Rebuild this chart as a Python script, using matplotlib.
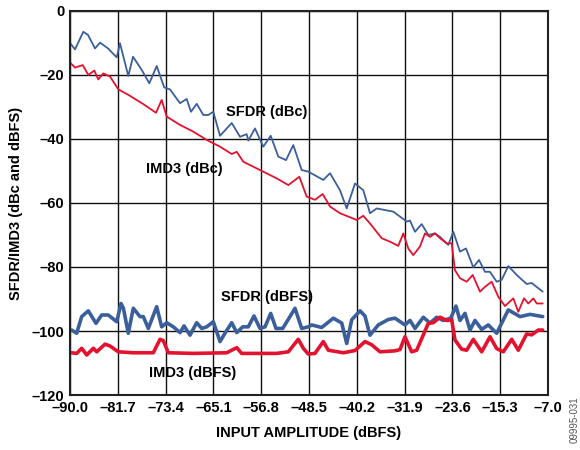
import numpy as np
import matplotlib.pyplot as plt

plt.rcParams['font.family'] = ['Liberation Sans', 'DejaVu Sans']

# values (x = input amplitude in dBFS, y in dB)
sfdr_dbc_x = [-90.17, -89.13, -87.69, -86.87, -85.66, -84.79, -83.40, -81.89, -81.32, -79.88,
              -79.06, -77.55, -76.23, -74.95, -73.63, -72.64, -70.90, -69.74, -68.99, -68.00,
              -66.85, -65.99, -65.12, -63.95, -61.92, -60.48, -59.32, -59.04, -57.88, -56.44,
              -55.15, -53.83, -52.49, -51.23, -49.77, -48.62, -46.02, -44.85, -43.12, -41.95,
              -40.51, -39.07, -37.91, -36.74, -33.86, -31.53, -30.96, -30.09, -28.93, -27.78,
              -26.62, -25.75, -24.31, -23.44, -22.28, -21.24, -19.97, -18.98, -17.94, -17.07,
              -15.91, -15.04, -13.89, -12.43, -10.70, -9.83, -7.92]
sfdr_dbc_y = [-9.6, -12.0, -6.5, -7.5, -11.7, -9.9, -11.7, -14.5, -10.1, -20.3,
              -14.3, -18.4, -22.6, -17.2, -23.9, -24.5, -28.8, -27.5, -31.5, -29.0,
              -32.5, -32.5, -31.5, -39.0, -35.0, -39.3, -38.5, -40.5, -36.7, -42.4,
              -39.0, -45.5, -46.6, -41.9, -49.7, -50.2, -52.8, -50.7, -56.0, -61.7,
              -53.9, -56.0, -63.2, -61.7, -62.7, -65.8, -65.5, -69.0, -66.6, -70.0,
              -69.5, -70.6, -73.1, -69.0, -75.2, -74.2, -80.1, -77.8, -81.5, -81.5,
              -84.6, -84.0, -79.7, -82.5, -85.3, -85.0, -87.7]

imd3_dbc_x = [-90.17, -89.13, -87.79, -86.82, -85.78, -85.09, -84.22, -83.05, -81.61, -79.88,
              -77.27, -75.07, -74.08, -73.21, -70.90, -68.59, -66.26, -63.95, -61.92, -61.05,
              -59.91, -57.01, -54.11, -52.09, -50.18, -48.90, -47.46, -46.12, -44.85, -43.12,
              -40.22, -39.07, -37.91, -35.88, -34.43, -33.00, -32.12, -31.26, -30.39, -29.23,
              -28.36, -27.49, -26.62, -25.75, -24.59, -23.72, -23.15, -22.28, -21.12, -20.07,
              -18.81, -17.94, -16.78, -15.63, -14.47, -13.02, -12.16, -11.17, -10.42, -9.55,
              -8.96, -7.92]
imd3_dbc_y = [-15.8, -17.7, -16.9, -20.0, -18.6, -21.4, -19.5, -20.5, -24.5, -26.2,
              -29.1, -31.8, -27.8, -33.0, -35.6, -37.7, -40.3, -42.4, -44.7, -44.0,
              -47.1, -49.7, -52.3, -54.4, -51.8, -58.0, -59.0, -57.2, -61.1, -63.2,
              -65.3, -64.0, -66.4, -71.0, -72.1, -73.4, -69.5, -74.2, -76.3, -73.6,
              -69.5, -70.6, -69.5, -71.0, -72.6, -72.6, -81.0, -83.5, -84.6, -82.5,
              -87.7, -86.2, -84.6, -89.3, -92.2, -89.8, -94.0, -89.8, -91.4, -89.8,
              -91.4, -91.4]

sfdr_dbfs_x = [-89.70, -88.84, -87.97, -86.82, -85.49, -84.50, -83.35, -81.89, -81.14, -80.74,
               -79.88, -79.01, -77.85, -77.27, -76.40, -74.95, -74.08, -73.21, -72.06, -70.90,
               -70.20, -69.16, -68.00, -67.13, -66.26, -65.12, -63.95, -63.09, -61.92, -61.05,
               -60.01, -59.04, -58.05, -57.01, -56.14, -55.15, -54.23, -53.07, -51.80, -50.93,
               -49.77, -48.62, -48.03, -46.29, -44.28, -42.82, -41.95, -41.08, -39.64, -38.78,
               -37.91, -36.47, -34.73, -33.57, -31.83, -30.96, -30.09, -28.65, -27.49, -26.32,
               -25.18, -23.89, -22.98, -22.28, -21.41, -20.54, -19.67, -18.51, -17.37, -15.91,
               -13.89, -11.86, -10.12, -7.92]
sfdr_dbfs_y = [-99.7, -100.7, -95.5, -93.7, -97.6, -95.0, -95.0, -97.1, -91.4, -92.8,
               -100.7, -92.9, -95.5, -95.5, -99.2, -92.4, -98.7, -97.4, -98.7, -100.5,
               -98.4, -101.3, -97.4, -99.2, -98.7, -97.1, -103.3, -100.7, -97.4, -100.5,
               -98.7, -98.7, -95.3, -99.2, -98.7, -94.5, -99.2, -99.2, -95.5, -92.9,
               -99.2, -98.7, -98.1, -98.9, -96.0, -97.5, -103.9, -96.5, -93.7, -95.3,
               -101.3, -98.1, -96.4, -96.0, -98.1, -96.7, -99.2, -95.7, -97.5, -95.7,
               -96.7, -96.0, -92.2, -96.7, -94.5, -99.7, -96.7, -99.5, -98.1, -100.7,
               -93.4, -95.5, -94.8, -95.5]

imd3_dbfs_x = [-89.70, -88.84, -87.97, -87.10, -85.95, -85.36, -83.92, -83.05, -81.61, -79.01,
               -75.54, -74.37, -73.80, -72.93, -68.59, -62.79, -61.05, -60.19, -54.11, -52.09,
               -50.36, -49.49, -48.62, -47.46, -46.02, -45.15, -42.54, -40.51, -38.78, -37.61,
               -36.17, -33.57, -32.70, -31.83, -30.67, -29.80, -27.78, -26.92, -25.75, -24.59,
               -23.72, -23.15, -21.98, -21.12, -19.97, -18.51, -17.07, -15.91, -14.76, -13.30,
               -12.16, -10.70, -9.83, -8.68, -7.92]
imd3_dbfs_y = [-106.8, -107.0, -105.4, -107.5, -105.4, -106.5, -104.1, -104.7, -106.5, -106.8,
               -106.8, -102.6, -103.0, -106.8, -107.0, -106.8, -105.2, -107.0, -107.0, -106.5,
               -102.6, -105.4, -107.2, -107.0, -103.3, -106.0, -106.8, -106.1, -103.3, -104.3,
               -106.5, -106.2, -105.8, -101.8, -106.5, -106.0, -97.6, -97.4, -95.7, -96.7,
               -96.5, -102.8, -105.7, -106.0, -102.6, -106.5, -101.8, -105.5, -106.5, -102.6,
               -106.0, -100.9, -101.2, -99.7, -99.7]

x_ticks = [-90.0, -81.7, -73.4, -65.1, -56.8, -48.5, -40.2, -31.9, -23.6, -15.3, -7.0]
y_ticks = [0, -20, -40, -60, -80, -100, -120]

blue = '#3b5f9b'
red = '#e3122f'

fig = plt.figure(figsize=(5.8, 4.5), dpi=100)
ax = fig.add_axes([0.1207, 0.1222, 0.8241, 0.8534])

style = dict(solid_joinstyle='round', solid_capstyle='round')
ax.plot(sfdr_dbc_x, sfdr_dbc_y, color=blue, lw=1.3, **style)
ax.plot(imd3_dbc_x, imd3_dbc_y, color=red, lw=1.3, **style)
ax.plot(sfdr_dbfs_x, sfdr_dbfs_y, color=blue, lw=2.6, **style)
ax.plot(imd3_dbfs_x, imd3_dbfs_y, color=red, lw=2.6, **style)

ax.set_xlim(-90, -7)
ax.set_ylim(-120, 0)
ax.set_xticks(x_ticks)
ax.set_yticks(y_ticks)
ax.set_xticklabels([f'{v:.1f}'.replace('-', '\u2013') for v in x_ticks],
                   fontsize=10.5, fontweight='bold')
ax.set_yticklabels([str(v).replace('-', '\u2013') for v in y_ticks],
                   fontsize=10.5, fontweight='bold')
ax.tick_params(length=0, pad=4)
ax.grid(True, color='#111111', lw=1.0)
for s in ax.spines.values():
    s.set_linewidth(1.5)
    s.set_color('#222222')

ax.set_xlabel('INPUT AMPLITUDE (dBFS)', fontsize=10.5, fontweight='bold', labelpad=8)
ax.set_ylabel('SFDR/IMD3 (dBc and dBFS)', fontsize=10.5, fontweight='bold', labelpad=6)

lbl = dict(fontsize=10.5, fontweight='bold', va='center', ha='left')
ax.text(-62.9, -31.5, 'SFDR (dBc)', **lbl)
ax.text(-76.8, -49.3, 'IMD3 (dBc)', **lbl)
ax.text(-63.8, -89.3, 'SFDR (dBFS)', **lbl)
ax.text(-76.3, -113.1, 'IMD3 (dBFS)', **lbl)

# figure id on the right edge
fig.text(0.99, 0.12, '09995-031', rotation=90, fontsize=7, color='#555555',
         ha='center', va='top')

fig.savefig('out.png', dpi=100)
